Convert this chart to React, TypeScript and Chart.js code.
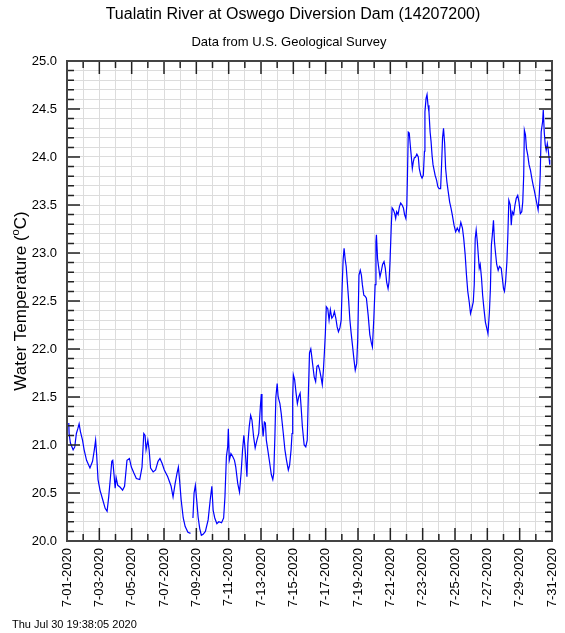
import React, { useEffect, useRef } from 'react';
import { Chart, registerables } from 'chart.js';

Chart.register(...registerables);

const chartTitle = 'Tualatin River at Oswego Diversion Dam (14207200)';
const chartSubtitle = 'Data from U.S. Geological Survey';
const footerText = 'Thu Jul 30 19:38:05 2020';

const xTickLabels = [
  '7-01-2020', '7-03-2020', '7-05-2020', '7-07-2020', '7-09-2020', '7-11-2020',
  '7-13-2020', '7-15-2020', '7-17-2020', '7-19-2020', '7-21-2020', '7-23-2020',
  '7-25-2020', '7-27-2020', '7-29-2020', '7-31-2020',
];
const yTickLabels = [
  '20.0', '20.5', '21.0', '21.5', '22.0', '22.5', '23.0', '23.5', '24.0', '24.5', '25.0',
];

// Days since 7-01-2020 00:00
const dayOffsets = [
  0.11, 0.13, 0.21, 0.38, 0.48, 0.58, 0.67, 0.75, 0.83, 0.96,
  1.06, 1.21, 1.42, 1.58, 1.69, 1.77, 1.83, 1.92, 2.04, 2.21,
  2.36, 2.48, 2.58, 2.69, 2.77, 2.83, 2.92, 2.98, 3.04, 3.14,
  3.29, 3.44, 3.56, 3.71, 3.86, 3.98, 4.13, 4.29, 4.5, 4.64,
  4.75, 4.83, 4.89, 5.0, 5.08, 5.17, 5.33, 5.48, 5.63, 5.75,
  5.88, 6.02, 6.23, 6.44, 6.56, 6.69, 6.81, 6.89, 6.96, 7.06,
  7.19, 7.31, 7.48, 7.64, 7.7, 7.79, 7.86, 7.94, 8.02, 8.11,
  8.21, 8.31, 8.42, 8.56, 8.73, 8.86, 8.96, 9.04, 9.14, 9.27,
  9.39, 9.56, 9.69, 9.77, 9.86, 9.94, 9.98, 10.04, 10.14, 10.25,
  10.36, 10.44, 10.56, 10.67, 10.77, 10.86, 10.94, 11.02, 11.13, 11.19,
  11.27, 11.36, 11.44, 11.54, 11.64, 11.75, 11.86, 11.96, 12.02, 12.06,
  12.13, 12.21, 12.27, 12.33, 12.42, 12.54, 12.64, 12.73, 12.79, 12.86,
  12.92, 13.0, 13.06, 13.17, 13.25, 13.38, 13.48, 13.58, 13.69, 13.77,
  13.86, 13.92, 13.96, 14.0, 14.08, 14.17, 14.25, 14.33, 14.42, 14.48,
  14.56, 14.67, 14.77, 14.86, 14.92, 15.0, 15.08, 15.14, 15.21, 15.29,
  15.38, 15.46, 15.54, 15.63, 15.71, 15.79, 15.86, 15.92, 15.98, 16.04,
  16.13, 16.21, 16.29, 16.38, 16.46, 16.54, 16.63, 16.71, 16.79, 16.88,
  16.96, 17.02, 17.08, 17.14, 17.21, 17.27, 17.33, 17.42, 17.5, 17.58,
  17.67, 17.75, 17.83, 17.92, 17.98, 18.06, 18.14, 18.21, 18.27, 18.36,
  18.44, 18.52, 18.63, 18.73, 18.83, 18.89, 18.98, 19.06, 19.11, 19.14,
  19.21, 19.27, 19.36, 19.44, 19.52, 19.61, 19.69, 19.77, 19.86, 19.92,
  19.98, 20.06, 20.11, 20.19, 20.27, 20.33, 20.39, 20.48, 20.56, 20.64,
  20.73, 20.81, 20.88, 20.96, 21.02, 21.06, 21.11, 21.17, 21.23, 21.29,
  21.36, 21.42, 21.48, 21.56, 21.64, 21.73, 21.79, 21.88, 21.96, 22.04,
  22.11, 22.14, 22.21, 22.27, 22.33, 22.39, 22.46, 22.52, 22.58, 22.64,
  22.71, 22.77, 22.86, 22.94, 23.02, 23.11, 23.17, 23.23, 23.29, 23.36,
  23.42, 23.5, 23.58, 23.67, 23.75, 23.83, 23.94, 24.04, 24.14, 24.25,
  24.36, 24.46, 24.54, 24.63, 24.71, 24.79, 24.88, 24.96, 25.04, 25.13,
  25.19, 25.25, 25.31, 25.38, 25.44, 25.5, 25.56, 25.64, 25.71, 25.79,
  25.88, 25.96, 26.04, 26.13, 26.19, 26.25, 26.31, 26.38, 26.44, 26.5,
  26.58, 26.67, 26.75, 26.86, 26.92, 27.0, 27.06, 27.13, 27.21, 27.27,
  27.33, 27.42, 27.48, 27.54, 27.63, 27.71, 27.79, 27.88, 27.96, 28.04,
  28.13, 28.19, 28.25, 28.29, 28.36, 28.42, 28.5, 28.58, 28.67, 28.75,
  28.83, 28.92, 29.0, 29.08, 29.14, 29.21, 29.27, 29.33, 29.42, 29.46,
  29.52, 29.58, 29.64, 29.71, 29.77, 29.83, 29.86,
];

// Water temperature, degrees C (null = gap in record)
const temperatures: (number | null)[] = [
  21.23, 21.12, 21.02, 20.95, 20.98, 21.12, 21.17, 21.22, 21.14, 21.05,
  20.95, 20.84, 20.76, 20.83, 20.95, 21.05, 20.91, 20.64, 20.53, 20.43,
  20.34, 20.31, 20.46, 20.67, 20.83, 20.84, 20.67, 20.55, 20.66, 20.58,
  20.56, 20.53, 20.57, 20.84, 20.86, 20.77, 20.71, 20.65, 20.64, 20.77,
  21.12, 21.10, 20.95, 21.05, 20.95, 20.76, 20.72, 20.74, 20.83, 20.86,
  20.81, 20.74, 20.67, 20.57, 20.46, 20.60, 20.71, 20.77, 20.64, 20.43,
  20.24, 20.15, 20.09, 20.08, null, 20.24, 20.50, 20.58, 20.43, 20.25,
  20.13, 20.06, 20.07, 20.10, 20.22, 20.43, 20.57, 20.32, 20.24, 20.18,
  20.20, 20.19, 20.24, 20.46, 20.88, 20.98, 21.17, 20.84, 20.91, 20.88,
  20.84, 20.77, 20.60, 20.51, 20.71, 20.95, 21.10, 20.95, 20.67, 21.02,
  21.19, 21.31, 21.26, 21.09, 20.97, 21.05, 21.12, 21.40, 21.53, 21.26,
  21.09, 21.24, 21.23, 21.05, 20.95, 20.81, 20.69, 20.64, 20.71, 21.09,
  21.50, 21.64, 21.50, 21.43, 21.33, 21.12, 20.95, 20.84, 20.74, 20.79,
  20.95, 21.12, 21.50, 21.73, 21.68, 21.54, 21.43, 21.50, 21.54, 21.40,
  21.19, 21.00, 20.98, 21.05, 21.47, 21.96, 22.00, 21.92, 21.82, 21.71,
  21.66, 21.82, 21.83, 21.78, 21.71, 21.63, 21.78, 21.96, 22.16, 22.44,
  22.42, 22.30, 22.41, 22.32, 22.34, 22.39, 22.32, 22.23, 22.18, 22.22,
  22.30, 22.65, 22.93, 23.05, 22.93, 22.86, 22.72, 22.51, 22.30, 22.16,
  22.02, 21.89, 21.78, 21.85, 22.09, 22.77, 22.82, 22.77, 22.67, 22.56,
  22.55, 22.53, 22.35, 22.15, 22.06, 22.02, 22.32, 22.67, 23.12, 23.19,
  22.94, 22.86, 22.75, 22.81, 22.88, 22.91, 22.84, 22.70, 22.63, 22.70,
  22.91, 23.29, 23.47, 23.45, 23.41, 23.36, 23.43, 23.40, 23.48, 23.52,
  23.50, 23.47, 23.40, 23.36, 23.50, 23.81, 24.26, 24.25, 24.13, 24.02,
  23.88, 23.95, 23.99, 24.00, 24.03, 24.00, 23.88, 23.81, 23.78, 23.81,
  24.06, 24.47, 24.61, 24.65, 24.54, 24.47, 24.26, 24.16, 24.02, 23.92,
  23.86, 23.81, 23.76, 23.69, 23.67, 23.67, 23.92, 24.20, 24.30, 24.14,
  23.88, 23.74, 23.64, 23.53, 23.47, 23.40, 23.29, 23.22, 23.26, 23.22,
  23.32, 23.26, 23.15, 22.98, 22.77, 22.60, 22.49, 22.37, 22.42, 22.49,
  22.67, 23.15, 23.24, 23.12, 22.98, 22.84, 22.88, 22.74, 22.56, 22.42,
  22.28, 22.22, 22.16, 22.39, 22.63, 23.08, 23.19, 23.34, 23.12, 23.01,
  22.88, 22.82, 22.86, 22.84, 22.75, 22.63, 22.60, 22.70, 22.91, 23.19,
  23.55, 23.50, 23.29, 23.43, 23.40, 23.50, 23.57, 23.60, 23.53, 23.41,
  23.43, 23.53, 23.81, 24.28, 24.23, 24.09, 24.02, 23.92, 23.86, 23.78,
  23.71, 23.64, 23.57, 23.50, 23.45, 23.60, 23.81, 24.26, 24.37, 24.49,
  24.26, 24.13, 24.07, 24.14, 24.07, 23.97, 23.92,
];

const FONT = '"Liberation Sans", Arial, Helvetica, sans-serif';

const decorPlugin = {
  id: 'decor',
  afterDraw(chart: any) {
    const { ctx, chartArea: a, scales } = chart;
    const xs = scales.x;
    const ys = scales.y;
    ctx.save();
    // inward tick marks
    ctx.strokeStyle = '#222';
    ctx.lineWidth = 1.5;
    ctx.beginPath();
    for (let d = 0; d <= 30; d++) {
      const px = xs.getPixelForValue(d);
      const len = d % 2 === 0 ? 13 : 7;
      ctx.moveTo(px, a.bottom);
      ctx.lineTo(px, a.bottom - len);
      ctx.moveTo(px, a.top);
      ctx.lineTo(px, a.top + len);
    }
    for (let k = 0; k <= 50; k++) {
      const py = ys.getPixelForValue(20 + k / 10);
      const len = k % 5 === 0 ? 13 : 7;
      ctx.moveTo(a.left, py);
      ctx.lineTo(a.left + len, py);
      ctx.moveTo(a.right, py);
      ctx.lineTo(a.right - len, py);
    }
    ctx.stroke();
    // frame
    ctx.strokeStyle = '#444';
    ctx.lineWidth = 2;
    ctx.strokeRect(a.left, a.top, a.right - a.left, a.bottom - a.top);

    // titles
    ctx.fillStyle = '#000';
    ctx.textAlign = 'center';
    ctx.textBaseline = 'middle';
    ctx.font = `16px ${FONT}`;
    ctx.fillText(chartTitle, 293, 15);
    ctx.font = `13px ${FONT}`;
    ctx.fillText(chartSubtitle, 289, 42);

    // footer
    ctx.textAlign = 'left';
    ctx.font = `11px ${FONT}`;
    ctx.fillText(footerText, 12, 625);

    // y axis title with superscript
    const cy = (a.top + a.bottom) / 2;
    ctx.translate(20, cy);
    ctx.rotate(-Math.PI / 2);
    const t1 = 'Water Temperature (';
    const sup = 'o';
    const t2 = 'C)';
    ctx.font = `17px ${FONT}`;
    const w1 = ctx.measureText(t1).width;
    const w2 = ctx.measureText(t2).width;
    ctx.font = `11px ${FONT}`;
    const ws = ctx.measureText(sup).width;
    const total = w1 + ws + w2;
    let x0 = -total / 2;
    ctx.textAlign = 'left';
    ctx.textBaseline = 'alphabetic';
    ctx.font = `17px ${FONT}`;
    ctx.fillText(t1, x0, 6);
    x0 += w1;
    ctx.font = `11px ${FONT}`;
    ctx.fillText(sup, x0, -1);
    x0 += ws;
    ctx.font = `17px ${FONT}`;
    ctx.fillText(t2, x0, 6);
    ctx.restore();
  },
};

export default function App() {
  const canvasRef = useRef<HTMLCanvasElement | null>(null);

  useEffect(() => {
    const canvas = canvasRef.current;
    if (!canvas) return;
    const points = dayOffsets.map((d, i) => ({ x: d, y: temperatures[i] }));
    const chart = new Chart(canvas, {
      type: 'line',
      data: {
        datasets: [
          {
            data: points as any,
            borderColor: '#0000ff',
            borderWidth: 1.2,
            pointRadius: 0,
            tension: 0,
            spanGaps: false,
            fill: false,
          },
        ],
      },
      options: {
        responsive: false,
        animation: false,
        devicePixelRatio: 1,
        layout: { padding: { top: 61, right: 13, bottom: 0, left: 0 } },
        plugins: {
          legend: { display: false },
          tooltip: { enabled: false },
          title: { display: false },
        },
        scales: {
          x: {
            type: 'linear',
            min: 0,
            max: 30,
            border: { display: false },
            grid: { color: '#dcdcdc', lineWidth: 1, drawTicks: false },
            afterFit: (s: any) => {
              s.height = 92;
              s.paddingRight = 0;
              s.paddingLeft = 0;
            },
            ticks: {
              stepSize: 1,
              autoSkip: false,
              maxTicksLimit: 100,
              maxRotation: 90,
              minRotation: 90,
              padding: 7,
              color: '#000',
              font: { family: FONT, size: 13 },
              callback: (v: any) => {
                const d = Math.round(Number(v));
                return d % 2 === 0 ? xTickLabels[d / 2] : '';
              },
            },
          },
          y: {
            type: 'linear',
            min: 20,
            max: 25,
            border: { display: false },
            grid: { color: '#dcdcdc', lineWidth: 1, drawTicks: false },
            afterFit: (s: any) => {
              s.width = 67;
            },
            ticks: {
              stepSize: 0.1,
              autoSkip: false,
              maxTicksLimit: 100,
              padding: 10,
              color: '#000',
              font: { family: FONT, size: 13 },
              callback: (v: any) => {
                const k = Math.round((Number(v) - 20) * 10);
                return k % 5 === 0 ? yTickLabels[k / 5] : '';
              },
            },
          },
        },
      },
      plugins: [decorPlugin],
    });
    return () => chart.destroy();
  }, []);

  return (
    <div style={{ position: 'absolute', left: 0, top: 0, width: 565, height: 633, background: '#fff' }}>
      <canvas ref={canvasRef} width={565} height={633} style={{ width: 565, height: 633 }} />
    </div>
  );
}
